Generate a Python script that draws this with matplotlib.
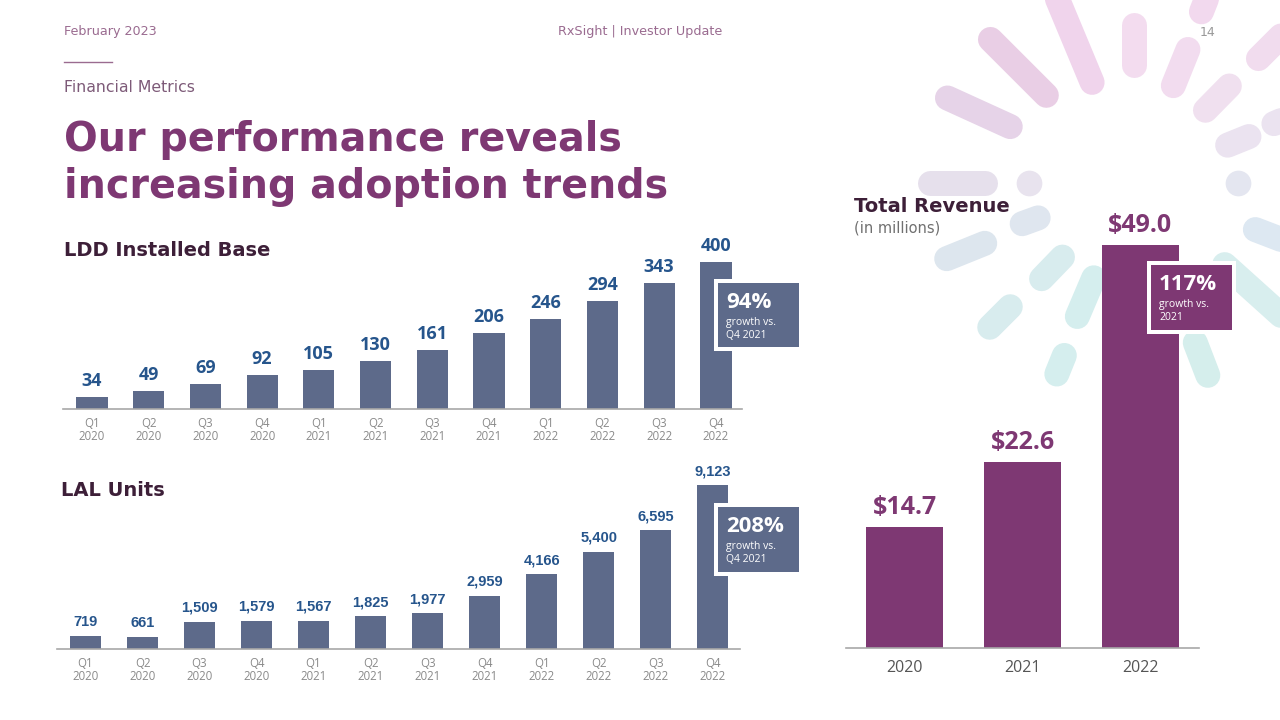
import numpy as np
import matplotlib
matplotlib.use("Agg")
import matplotlib.pyplot as plt
from matplotlib.patches import Rectangle

# ------------------------------------------------------------------
# data
# ------------------------------------------------------------------
quarters = ["Q1\n2020", "Q2\n2020", "Q3\n2020", "Q4\n2020",
            "Q1\n2021", "Q2\n2021", "Q3\n2021", "Q4\n2021",
            "Q1\n2022", "Q2\n2022", "Q3\n2022", "Q4\n2022"]
ldd_base = [34, 49, 69, 92, 105, 130, 161, 206, 246, 294, 343, 400]
lal_units = [719, 661, 1509, 1579, 1567, 1825, 1977, 2959, 4166, 5400, 6595, 9123]
years = ["2020", "2021", "2022"]
revenue = [14.7, 22.6, 49.0]

# colours
SLATE = "#5d6a8a"
PURPLE = "#7e3873"
BLUE_TXT = "#26558c"
DARK_TXT = "#3d1f38"
GREY = "#8a8a8a"

W, H = 1280, 720
fig = plt.figure(figsize=(12.8, 7.2), dpi=100)
fig.patch.set_facecolor("white")


def px_axes(x0, y0, x1, y1):
    # axes placed with pixel coords (y measured from top)
    return fig.add_axes([x0 / W, 1 - y1 / H, (x1 - x0) / W, (y1 - y0) / H])


# background layer: decoration + slide text
bg = fig.add_axes([0, 0, 1, 1])
bg.set_xlim(0, W)
bg.set_ylim(H, 0)
bg.axis("off")
bg.set_zorder(0)

# burst of rounded strokes (angle, r_in, r_out, colour)
cx, cy = 1134, 183
strokes = [
    (112.6, 109, 203, "#f0d4ec"),
    (135.0, 124, 203, "#e9cee5"),
    (155.5, 136, 205, "#e6d3e8"),
    (180.0, 149, 204, "#e6e0ec"),
    (180.0, 105, 105, "#e8e3ee"),
    (90.0, 118, 158, "#f3dcef"),
    (68.0, 105, 144, "#f2dcef"),
    (68.5, 184, 204, "#f2d9ee"),
    (45.5, 102, 136, "#f0e0ef"),
    (45.0, 176, 215, "#f1dcee"),
    (22.0, 101, 124, "#ebe3f0"),
    (23.0, 152, 195, "#ebe3f0"),
    (0.0, 104, 104, "#e4e6f0"),
    (0.0, 150, 200, "#e4e6f0"),
    (-21.0, 130, 180, "#dde8f2"),
    (-42.0, 122, 200, "#d8eeee"),
    (-69.0, 171, 206, "#d5eeec"),
    (-69.0, 100, 140, "#d5eeec"),
    (-113.0, 103, 145, "#d5eeee"),
    (-112.0, 186, 206, "#d5eeee"),
    (-134.0, 103, 133, "#d8ecee"),
    (-135.0, 175, 204, "#d8ecee"),
    (-160.0, 102, 119, "#dfe6ef"),
    (-158.0, 161, 202, "#dde6ee"),
]
for ang, r0, r1, col in strokes:
    a = np.radians(ang)
    xs = [cx + r0 * np.cos(a), cx + r1 * np.cos(a)]
    ys = [cy - r0 * np.sin(a), cy - r1 * np.sin(a)]
    if r0 == r1:
        bg.plot(xs[:1], ys[:1], "o", ms=18.5, color=col, mec="none", zorder=1)
    else:
        bg.plot(xs, ys, color=col, lw=18, solid_capstyle="round", zorder=1)

head_col = "#9a6b90"
HEAD_FONT = "DejaVu Sans"
bg.text(64, 32, "February 2023", fontsize=9.2, color=head_col, family=HEAD_FONT,
        va="center", ha="left", zorder=3)
bg.text(640, 32, "RxSight | Investor Update", fontsize=9.2, color=head_col,
        family=HEAD_FONT, va="center", ha="center", zorder=3)
bg.text(1208, 32, "14", fontsize=9, color="#999999", family=HEAD_FONT,
        va="center", ha="center", zorder=3)
bg.plot([64, 112], [62, 62], color=head_col, lw=1, zorder=3)
bg.text(64, 87, "Financial Metrics", fontsize=11.3, color="#7d5a78",
        family=HEAD_FONT, va="center", ha="left", zorder=3)
bg.text(64, 140, "Our performance reveals", fontsize=28.5, color=PURPLE,
        family=HEAD_FONT, weight="bold", va="center", ha="left", zorder=3)
bg.text(64, 187, "increasing adoption trends", fontsize=28.5, color=PURPLE,
        family=HEAD_FONT, weight="bold", va="center", ha="left", zorder=3)
bg.text(64, 251, "LDD Installed Base", fontsize=14, color=DARK_TXT,
        family=HEAD_FONT, weight="bold", va="center", ha="left", zorder=3)
bg.text(61, 490, "LAL Units", fontsize=14, color=DARK_TXT,
        family=HEAD_FONT, weight="bold", va="center", ha="left", zorder=3)
bg.text(854, 206, "Total Revenue", fontsize=14, color=DARK_TXT,
        family=HEAD_FONT, weight="bold", va="center", ha="left", zorder=3)
bg.text(854, 228, "(in millions)", fontsize=10.5, color="#707070",
        family=HEAD_FONT, va="center", ha="left", zorder=3)


def style_axes(ax):
    ax.patch.set_alpha(0)
    for s in ["top", "right", "left"]:
        ax.spines[s].set_visible(False)
    ax.spines["bottom"].set_color("#a8a8a8")
    ax.spines["bottom"].set_linewidth(1.2)
    ax.set_yticks([])
    ax.tick_params(axis="x", length=0)
    ax.set_zorder(1)


# LDD installed base
ax1 = px_axes(63, 240, 742, 409)
x = np.arange(len(quarters))
ax1.bar(x, ldd_base, width=0.55, color=SLATE)
ax1.set_xlim(-0.51, 11.46)
ax1.set_ylim(0, 460)
ax1.set_xticks(x)
ax1.set_xticklabels(quarters, fontsize=8.3, color=GREY, family="Open Sans", linespacing=1.0)
ax1.tick_params(axis="x", pad=6)
style_axes(ax1)
for i, v in enumerate(ldd_base):
    ax1.annotate(str(v), (i, v), xytext=(0, 5), textcoords="offset points",
                 ha="center", va="bottom", fontsize=13, weight="bold",
                 color=BLUE_TXT, family="Open Sans")

# LAL units
ax2 = px_axes(57, 470, 740, 649)
ax2.bar(x, lal_units, width=0.545, color=SLATE)
ax2.set_xlim(-0.5, 11.48)
ax2.set_ylim(0, 9955)
ax2.set_xticks(x)
ax2.set_xticklabels(quarters, fontsize=8.3, color=GREY, family="Open Sans", linespacing=1.0)
ax2.tick_params(axis="x", pad=6)
style_axes(ax2)
for i, v in enumerate(lal_units):
    ax2.annotate(f"{v:,}", (i, v), xytext=(0, 5), textcoords="offset points",
                 ha="center", va="bottom", fontsize=10.5, weight="bold",
                 color=BLUE_TXT, family="Liberation Sans")

# total revenue
ax3 = px_axes(846, 215, 1199, 648)
xr = np.arange(len(years))
ax3.bar(xr, revenue, width=0.655, color=PURPLE)
ax3.set_xlim(-0.5, 2.5)
ax3.set_ylim(0, 52.6)
ax3.set_xticks(xr)
ax3.set_xticklabels(years, fontsize=11.5, color="#555555", family="Open Sans")
ax3.tick_params(axis="x", pad=9)
style_axes(ax3)
for i, v in enumerate(revenue):
    ax3.annotate(f"${v:.1f}", (i, v), xytext=(0, 5), textcoords="offset points",
                 ha="center", va="bottom", fontsize=18, weight="bold",
                 color=PURPLE, family="Open Sans")

# foreground layer: growth callouts
fg = fig.add_axes([0, 0, 1, 1])
fg.set_xlim(0, W)
fg.set_ylim(H, 0)
fg.axis("off")
fg.patch.set_alpha(0)
fg.set_zorder(2)


def callout(x0, y0, x1, y1, big, line1, line2, col):
    fg.add_patch(Rectangle((x0 - 4, y0 - 4), x1 - x0 + 8, y1 - y0 + 8,
                           facecolor="white", edgecolor="none"))
    fg.add_patch(Rectangle((x0, y0), x1 - x0, y1 - y0, facecolor=col, edgecolor="none"))
    fg.text(x0 + 8, y0 + 19, big, fontsize=16, weight="bold", color="white",
            family="Open Sans", va="center", ha="left")
    fg.text(x0 + 8, y0 + 39, line1, fontsize=7.5, color="white",
            family="Open Sans", va="center", ha="left")
    fg.text(x0 + 8, y0 + 52, line2, fontsize=7.5, color="white",
            family="Open Sans", va="center", ha="left")


callout(718, 283, 799, 347, "94%", "growth vs.", "Q4 2021", SLATE)
callout(718, 507, 799, 572, "208%", "growth vs.", "Q4 2021", SLATE)
callout(1151, 265, 1232, 330, "117%", "growth vs.", "2021", PURPLE)

fig.savefig("out.png", dpi=100, facecolor="white")
